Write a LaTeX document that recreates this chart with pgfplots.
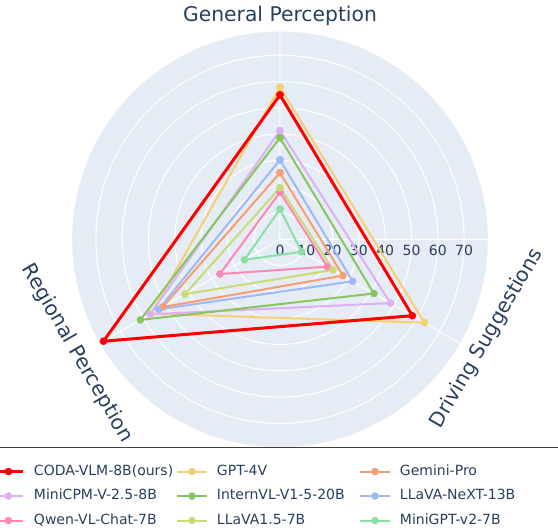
\documentclass[border=0pt]{standalone}
\usepackage{pgfplots}
\pgfplotsset{compat=1.18}
\usepgfplotslibrary{polar}
\usepackage{fontspec}
\setmainfont{DejaVu Sans}
\definecolor{txt}{HTML}{2A3F5F}
\definecolor{bgc}{HTML}{E5ECF6}
\definecolor{cGPT}{RGB}{246,207,113}
\definecolor{cGem}{RGB}{248,156,116}
\definecolor{cMini}{RGB}{220,176,242}
\definecolor{cIntern}{RGB}{135,197,95}
\definecolor{cNext}{RGB}{158,185,243}
\definecolor{cQwen}{RGB}{254,136,177}
\definecolor{cLl}{RGB}{201,219,116}
\definecolor{cMG}{RGB}{139,224,164}
\begin{document}
\begin{tikzpicture}
\begin{polaraxis}[
  width=415.6pt, height=415.6pt, scale only axis,
  ymin=0, ymax=79,
  clip=false,
  xtick={0,90,210,330}, xticklabels={},
  ytick={0,10,...,70},
  grid=major,
  major grid style={white, line width=1pt},
  axis line style={draw=none},
  major tick length=0pt,
  axis background/.style={fill=bgc},
  yticklabel style={anchor=north, font=\fontsize{14}{16}\selectfont, text=txt, yshift=-2.5pt},
  /pgf/number format/assume math mode=true,
  legend columns=3,
  legend style={
    at={(-0.193,-0.039)}, anchor=north west,
    draw=none, fill=none, inner sep=0pt, outer sep=0pt,
    font=\fontsize{14}{16}\selectfont, text=txt,
    row sep=8pt,
    nodes={inner xsep=0pt, inner ysep=1pt, text height=11pt, text depth=3.5pt, text width=142pt, align=left},
    /tikz/every odd column/.append style={column sep=9pt},
    /tikz/every even column/.append style={column sep=0pt},
  },
  legend image code/.code={\draw[mark repeat=2,mark phase=2,#1] plot coordinates {(0pt,0pt) (15pt,0pt) (30pt,0pt)};},
  every axis plot/.append style={line width=2pt, line join=round, mark=*, mark size=3.5pt, mark options={solid, line width=0.5pt}},
]
\path (axis cs:0,0) coordinate (C);
\addlegendimage{red, line width=3pt, mark=*, mark size=3.5pt, mark options={solid, line width=0.5pt}}
\addlegendentry{CODA-VLM-8B(ours)}
\addplot[cGPT] coordinates {(90,57.8) (-30,63.4) (210,56.5) (90,57.8)};
\addlegendentry{GPT-4V}
\addplot[cGem] coordinates {(90,25.3) (-30,27.6) (210,51.5) (90,25.3)};
\addlegendentry{Gemini-Pro}
\addplot[cMini] coordinates {(90,41.3) (-30,48.5) (210,57.0) (90,41.3)};
\addlegendentry{MiniCPM-V-2.5-8B}
\addplot[cIntern] coordinates {(90,38.6) (-30,41.2) (210,61.3) (90,38.6)};
\addlegendentry{InternVL-V1-5-20B}
\addplot[cNext] coordinates {(90,30.2) (-30,31.9) (210,53.3) (90,30.2)};
\addlegendentry{LLaVA-NeXT-13B}
\addplot[cQwen] coordinates {(90,17.9) (-30,20.8) (210,26.4) (90,17.9)};
\addlegendentry{Qwen-VL-Chat-7B}
\addplot[cLl] coordinates {(90,19.6) (-30,23.3) (210,41.7) (90,19.6)};
\addlegendentry{LLaVA1.5-7B}
\addplot[cMG] coordinates {(90,11.5) (-30,9.5) (210,15.6) (90,11.5)};
\addlegendentry{MiniGPT-v2-7B}
\addplot[red, line width=3pt, forget plot] coordinates {(90,54.9) (-30,58.1) (210,77.5) (90,54.9)};
\end{polaraxis}
\node[font=\fontsize{20.3}{24}\selectfont, text=txt] at ([shift={(0pt,223pt)}]C) {General Perception};
\node[font=\fontsize{20.3}{24}\selectfont, text=txt, rotate=60] at ([shift={(207pt,-99pt)}]C) {Driving Suggestions};
\node[font=\fontsize{20.3}{24}\selectfont, text=txt, rotate=-60] at ([shift={(-203pt,-114pt)}]C) {Regional Perception};
\draw[black!75, line width=1pt] ([shift={(-280pt,-208.7pt)}]C) -- ++(558pt,0pt);
\pgfresetboundingbox
\path ([shift={(-280pt,239.3pt)}]C) rectangle ++(558pt,-530pt);
\end{tikzpicture}
\end{document}
